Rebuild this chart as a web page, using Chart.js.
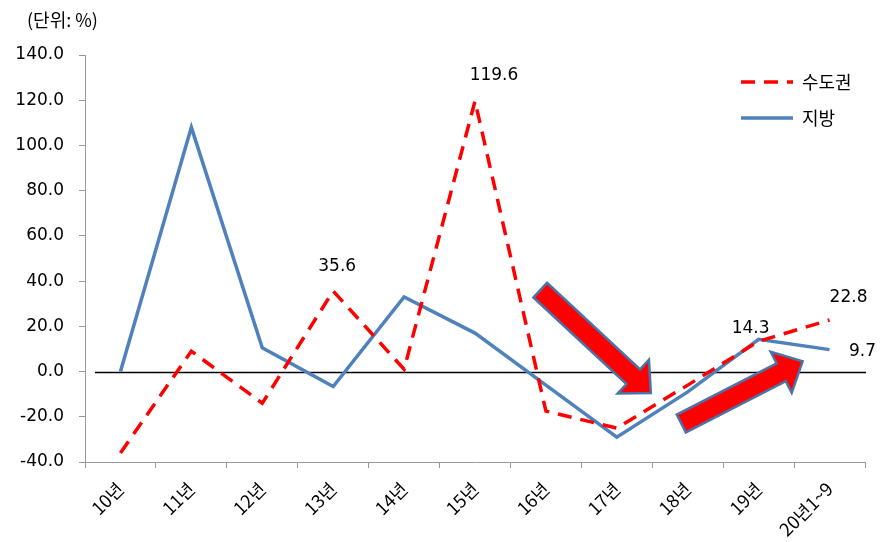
<!DOCTYPE html>
<html>
<head>
<meta charset="utf-8">
<script src="https://cdn.jsdelivr.net/npm/chart.js@4.4.1/dist/chart.umd.min.js"></script>
<style>
    body { margin: 0; background: #fff; }
    #chart { display: block; }
</style>
</head>
<body>
<canvas id="chart" width="885" height="542"></canvas>
<script>
// chart values
const categories = ['10년', '11년', '12년', '13년', '14년', '15년', '16년', '17년', '18년', '19년', '20년1~9'];
const metroValues = [-36, 9, -14, 35.6, 1, 119.6, -17.5, -25, -6, 13.4, 22.8];
const localValues = [0, 108, 10.5, -6.6, 33, 17, -6, -29, -9, 14.3, 9.7];
const seriesNames = ['수도권', '지방'];
const yMin = -40;
const yMax = 140;
const yStep = 20;

// value labels: [series, index]
const valueLabels = [
    [0, 5], [0, 3], [0, 10], [1, 9], [1, 10]
];
const labelOffsets = [[19, -26], [4, -24], [19, -22], [-8, -11], [33, 2]];

// arrows in data space: [fromIndex, fromValue, toIndex, toValue]
const arrows = [
    [5.92, 36, 7.48, -9.5],
    [7.91, -23, 9.62, 4.5]
];

const numFont = '"DejaVu Sans", sans-serif';
const korFont = '"Noto Sans CJK KR", sans-serif';

function drawArrow(ctx, x1, y1, x2, y2) {
    const len = Math.hypot(x2 - x1, y2 - y1);
    const ux = (x2 - x1) / len, uy = (y2 - y1) / len;
    const px = -uy, py = ux;
    const bw = 10, hw = 23, hl = 24;
    const bx = x2 - ux * hl, by = y2 - uy * hl;
    const pts = [
        [x1 + px * bw, y1 + py * bw],
        [bx + px * bw, by + py * bw],
        [bx + px * hw, by + py * hw],
        [x2, y2],
        [bx - px * hw, by - py * hw],
        [bx - px * bw, by - py * bw],
        [x1 - px * bw, y1 - py * bw]
    ];
    ctx.beginPath();
    pts.forEach(([x, y], i) => i ? ctx.lineTo(x, y) : ctx.moveTo(x, y));
    ctx.closePath();
    ctx.fillStyle = '#FF0000';
    ctx.fill();
    ctx.lineWidth = 2.5;
    ctx.lineJoin = 'miter';
    ctx.strokeStyle = '#4A74A8';
    ctx.stroke();
}

const extras = {
    id: 'extras',
    beforeDatasetsDraw(chart) {
        const ctx = chart.ctx;
        const y = chart.scales.y;
        const area = chart.chartArea;
        // zero line
        ctx.save();
        ctx.strokeStyle = '#000';
        ctx.lineWidth = 1.5;
        ctx.beginPath();
        const y0 = Math.round(y.getPixelForValue(0)) + 0.5;
        ctx.moveTo(area.left + 10, y0);
        ctx.lineTo(area.right + 1, y0);
        ctx.stroke();
        ctx.restore();
    },
    afterDatasetsDraw(chart) {
        const ctx = chart.ctx;
        const x = chart.scales.x, y = chart.scales.y;
        ctx.save();
        // unit text
        ctx.fillStyle = '#000';
        ctx.font = '18px ' + korFont;
        ctx.textAlign = 'left';
        ctx.textBaseline = 'middle';
        ctx.fillText('(단위: %)', 27, 20);

        // value labels
        ctx.font = '17px ' + numFont;
        ctx.textAlign = 'center';
        valueLabels.forEach(([s, i], k) => {
            const v = chart.data.datasets[s].data[i];
            const px = x.getPixelForValue(i) + labelOffsets[k][0];
            const py = y.getPixelForValue(v) + labelOffsets[k][1];
            ctx.fillText(v.toFixed(1), px, py);
        });

        // legend
        chart.data.datasets.forEach((ds, i) => {
            const ly = 82 + i * 36;
            ctx.beginPath();
            ctx.setLineDash(ds.borderDash || []);
            ctx.strokeStyle = ds.borderColor;
            ctx.lineWidth = ds.borderWidth;
            ctx.moveTo(741, ly);
            ctx.lineTo(793, ly);
            ctx.stroke();
            ctx.setLineDash([]);
            ctx.fillStyle = '#000';
            ctx.font = '18px ' + korFont;
            ctx.textAlign = 'left';
            ctx.fillText(ds.label, 802, ly);
        });

        // arrows
        arrows.forEach(([i1, v1, i2, v2]) => {
            drawArrow(ctx, x.getPixelForValue(i1), y.getPixelForValue(v1),
                x.getPixelForValue(i2), y.getPixelForValue(v2));
        });
        ctx.restore();
    }
};

new Chart(document.getElementById('chart'), {
    type: 'line',
    data: {
        labels: categories,
        datasets: [{
            label: seriesNames[0],
            data: metroValues,
            borderColor: '#FF0000',
            borderWidth: 3.5,
            borderDash: [14, 9],
            pointRadius: 0,
            tension: 0,
            fill: false
        }, {
            label: seriesNames[1],
            data: localValues,
            borderColor: '#4F81BD',
            borderWidth: 3.5,
            pointRadius: 0,
            tension: 0,
            fill: false
        }]
    },
    options: {
        responsive: false,
        devicePixelRatio: 1,
        animation: false,
        layout: { padding: { left: 0, right: 20, top: 55, bottom: 0 } },
        plugins: {
            legend: { display: false },
            tooltip: { enabled: false }
        },
        scales: {
            x: {
                offset: true,
                grid: { offset: true, drawOnChartArea: false, color: '#999', tickLength: 6 },
                border: { color: '#999', width: 1 },
                ticks: {
                    maxRotation: 45, minRotation: 45,
                    color: '#000',
                    padding: 10,
                    font: { family: korFont, size: 18 }
                },
                afterFit: s => { s.height = 80; }
            },
            y: {
                min: yMin,
                max: yMax,
                grid: { drawOnChartArea: false, color: '#999', tickLength: 6 },
                border: { color: '#999', width: 1 },
                ticks: {
                    stepSize: yStep,
                    color: '#000',
                    padding: 15,
                    font: { family: numFont, size: 17 },
                    callback: v => v.toFixed(1)
                },
                afterFit: s => { s.width = 85; }
            }
        }
    },
    plugins: [extras]
});
</script>
</body>
</html>
